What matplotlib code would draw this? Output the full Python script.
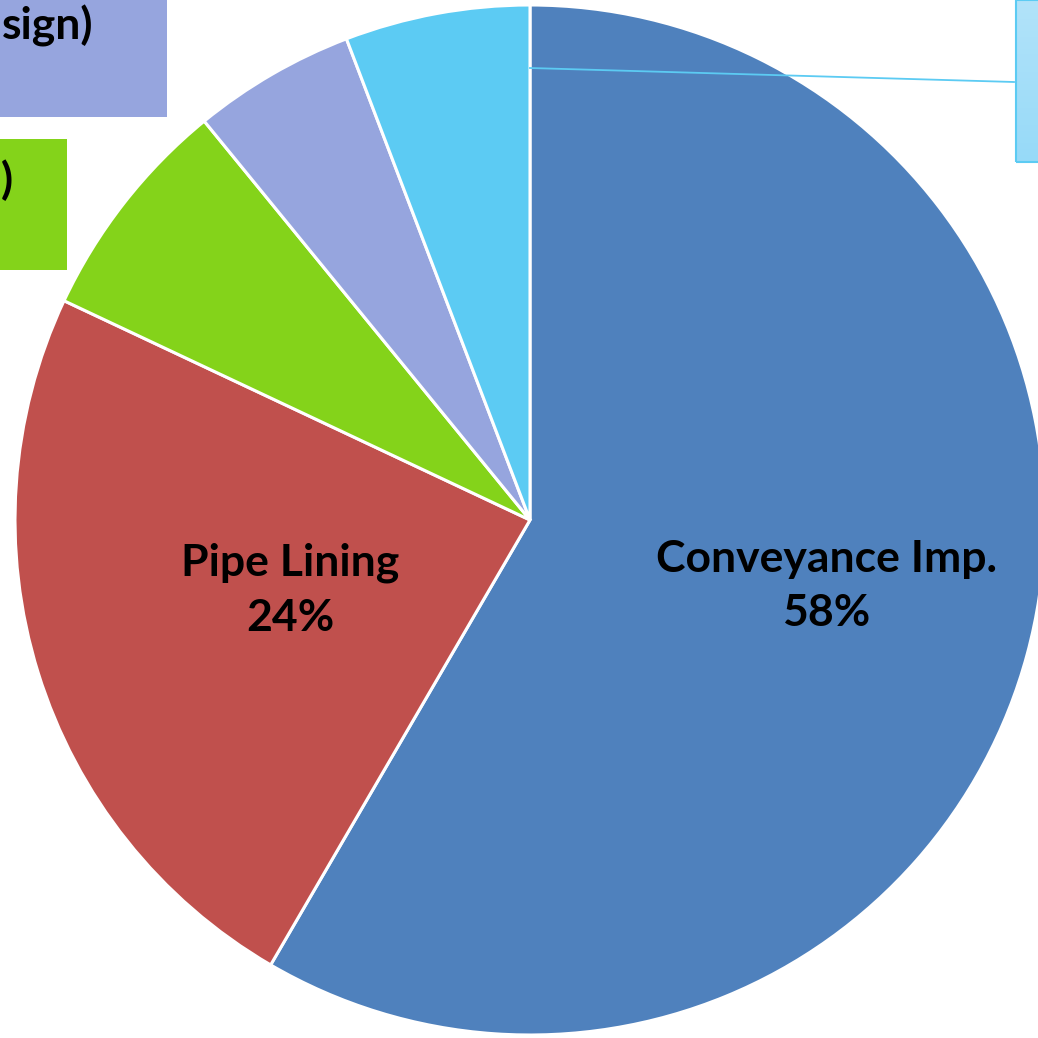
import matplotlib
matplotlib.use("Agg")
import matplotlib.pyplot as plt
from matplotlib.patches import Rectangle
from matplotlib.colors import LinearSegmentedColormap
import numpy as np

# ---- data ----
categories = ["Conveyance Imp.", "Pipe Lining", "Other A", "Other B (Design)", "Other C"]
values = [58.4, 23.6, 7.1, 5.1, 5.8]
colors = ["#4F81BD", "#C0504D", "#84D31A", "#96A5DE", "#5CCBF3"]

W = H = 1038
fig = plt.figure(figsize=(W / 100, H / 100), dpi=100)
ax = fig.add_axes([0, 0, 1, 1])
ax.set_axis_off()

def P(x, y):
    """pixel (top-left origin) -> data coords"""
    return x, H - y

cx, cy = P(530, 520)
R = 515
wedges, _ = ax.pie(values, colors=colors, startangle=90, counterclock=False,
                   center=(cx, cy), radius=R,
                   wedgeprops=dict(edgecolor="white", linewidth=2.2))
ax.set_xlim(0, W)
ax.set_ylim(0, H)
ax.set_aspect("equal")

FONT = ["Lato", "DejaVu Sans"]
fs = 32

# inside labels
pct = [f"{round(v)}%" for v in values]
ax.text(*P(826, 586), f"{categories[0]}\n{pct[0]}", ha="center", va="center",
        fontsize=fs, fontweight="bold", family=FONT, linespacing=1.45)
ax.text(*P(290, 590), f"{categories[1]}\n{pct[1]}", ha="center", va="center",
        fontsize=fs, fontweight="bold", family=FONT, linespacing=1.45)

# outside label boxes (cropped at the figure edge)
ax.add_patch(Rectangle(P(0, 117), 167, 117, facecolor=colors[3], edgecolor="none", zorder=3))
ax.text(*P(2, 26), "sign)", ha="left", va="center", fontsize=fs, fontweight="bold",
        family=FONT, zorder=4)

ax.add_patch(Rectangle(P(0, 270), 67, 131, facecolor=colors[2], edgecolor="none", zorder=3))
ax.text(*P(1, 180), ")", ha="left", va="center", fontsize=fs, fontweight="bold",
        family=FONT, zorder=4)

# light-blue box with gradient on the right
grad = np.linspace(0, 1, 100).reshape(-1, 1)
cmap = LinearSegmentedColormap.from_list("g", ["#B2E3FA", "#97DAF8"])
x0, y0 = P(1016, 162)
ax.imshow(grad, cmap=cmap, extent=(x0, x0 + 40, y0, y0 + 162), origin="upper",
          aspect="auto", zorder=3)
ax.add_patch(Rectangle((x0, y0), 40, 162, facecolor="none", edgecolor="#5CCBF3",
                       linewidth=1.5, zorder=4))
ax.set_xlim(0, W)
ax.set_ylim(0, H)

# leader line
ax.plot([P(530, 68)[0], P(1014, 82)[0]], [P(530, 68)[1], P(1014, 82)[1]],
        color="#5CCBF3", linewidth=1.3, zorder=5)

fig.savefig("out.png", dpi=100)
